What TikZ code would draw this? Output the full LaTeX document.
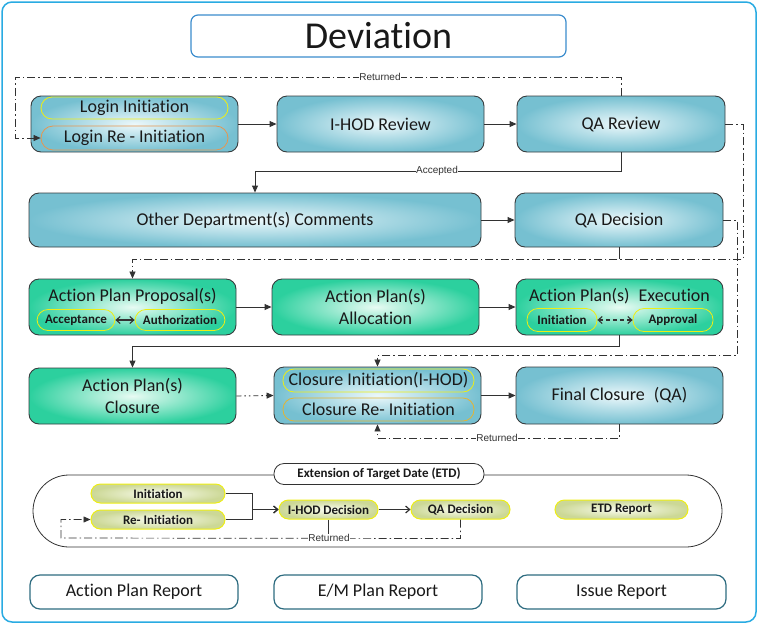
\documentclass[tikz,border=0pt]{standalone}
\usepackage{fontspec}
\setmainfont{Carlito}[RawFeature={-liga;-clig;-calt;-dlig}]
\newfontfamily\lblfont{Liberation Sans}
\usetikzlibrary{arrows.meta}

\definecolor{framecol}{RGB}{41,171,226}
\definecolor{devcol}{RGB}{58,140,205}
\definecolor{boxline}{RGB}{55,60,62}
\definecolor{bluein}{RGB}{236,248,251}
\definecolor{blueout}{RGB}{118,192,209}
\definecolor{greenin}{RGB}{232,251,243}
\definecolor{greenout}{RGB}{44,208,158}
\definecolor{pillyel}{RGB}{238,238,20}
\definecolor{pillorange}{RGB}{230,150,80}
\definecolor{pillgold}{RGB}{228,180,50}
\definecolor{etdin}{RGB}{250,252,240}
\definecolor{etdout}{RGB}{204,216,150}
\definecolor{reportcol}{RGB}{46,108,128}
\definecolor{linecol}{RGB}{50,50,50}
\definecolor{txt}{RGB}{25,25,25}

\begin{document}
\begin{tikzpicture}
[x=1pt,y=-1pt,>={Triangle[length=7pt,width=6pt]},
 box/.style={draw=boxline,line width=0.9pt,rounded corners=10pt,minimum width=207pt,minimum height=56pt,inner sep=0pt,font=\fontsize{18}{22}\selectfont,align=center,text=txt},
 bluebox/.style={box,inner color=bluein,outer color=blueout},
 greenbox/.style={box,inner color=greenin,outer color=greenout},
 pill/.style={draw=pillyel,line width=0.8pt,rounded corners=11pt,minimum width=187pt,minimum height=22pt,inner sep=0pt,font=\fontsize{18}{22}\selectfont,text=txt},
 smallpill/.style={pill,minimum width=0pt,font=\bfseries\fontsize{13}{15}\selectfont},
 etdpill/.style={draw=pillyel,line width=1pt,rounded corners=9.5pt,minimum height=19pt,inner sep=0pt,inner color=etdin,outer color=etdout,font=\bfseries\fontsize{13}{15}\selectfont,text=txt},
 report/.style={draw=reportcol,line width=1.2pt,rounded corners=10pt,minimum width=208pt,minimum height=34pt,inner sep=0pt,fill=white,font=\fontsize{18}{22}\selectfont,text=txt},
 line/.style={draw=linecol,line width=0.9pt},
 dashdot/.style={draw=linecol,line width=0.7pt,dash pattern=on 8pt off 3pt on 1.5pt off 3pt},
 lbl/.style={fill=white,inner sep=0.6pt,font=\lblfont\fontsize{10}{11}\selectfont,text=linecol},
 chev/.style={-{Straight Barb[length=4pt,width=7pt]}},
]

\useasboundingbox (0,0) rectangle (758,625);

%Frame and title
\draw[framecol,line width=1.5pt,rounded corners=10pt] (2,2) rectangle (756,622);
\node (dev) at (378.5,36)[draw=devcol,line width=1.2pt,rounded corners=7pt,minimum width=375pt,minimum height=42pt,inner sep=0pt,font=\fontsize{38}{40}\selectfont,text=txt] {Deviation};

%First row
\node (login) at (134.5,124)[bluebox] {};
\node (logini) at (134.5,108)[pill] {Login Initiation};
\node (loginre) at (134.5,138)[pill,draw=pillorange,minimum height=24pt,rounded corners=12pt] {Login Re - Initiation};
\node (ihod) at (380.5,124)[bluebox] {I-HOD Review};
\node (qarev) at (621,124)[bluebox,minimum width=208pt] {QA Review};

%Second row
\node (other) at (255,220)[bluebox,minimum width=452pt,minimum height=54pt] {Other Department(s) Comments};
\node (qadec) at (619,220)[bluebox,minimum width=208pt,minimum height=54pt] {QA Decision};

%Third row
\node (app) at (132.5,307)[greenbox] {};
\node (apptitle) at (132.5,296)[font=\fontsize{18}{22}\selectfont,text=txt] {Action Plan Proposal(s)};
\node (acc) at (76,320)[smallpill,minimum width=78pt,minimum height=21pt] {Acceptance};
\node (auth) at (180,320)[smallpill,minimum width=90pt,minimum height=21pt] {Authorization};
\node (alloc) at (375.5,307)[greenbox] {Action Plan(s)\\Allocation};
\node (exec) at (619.5,307)[greenbox] {};
\node (exectitle) at (619.5,296)[font=\fontsize{18}{22}\selectfont,text=txt] {Action Plan(s)\enspace Execution};
\node (exini) at (562,320)[smallpill,minimum width=70pt,minimum height=23pt] {Initiation};
\node (exapp) at (673,320)[smallpill,minimum width=80pt,minimum height=23pt] {Approval};

%Fourth row
\node (apclose) at (132.5,396)[greenbox] {Action Plan(s)\\Closure};
\node (closure) at (377.5,395.5)[bluebox,minimum height=57pt] {};
\node (clini) at (378.5,380.5)[pill,minimum width=191pt,minimum height=23pt] {Closure Initiation(I-HOD)};
\node (clre) at (378.5,409.5)[pill,draw=pillgold,minimum width=191pt,minimum height=23pt] {Closure Re- Initiation};
\node (final) at (619.5,395.5)[bluebox,minimum height=57pt] {Final Closure\enspace(QA)};

%Joining the boxes
\draw[line,->] (login.east) -- (ihod.west);
\draw[line,->] (ihod.east) -- (qarev.west);
\coordinate (rettop) at (15,77);
\draw[dashdot,->] (qarev.north) |- (rettop) |- (loginre.west);
\node (ret1) at (380,77)[lbl] {Returned};
\draw[line,->] (qarev.south) -- ++(0,19) -| (other.north);
\node (accd) at (437,171)[lbl] {Accepted};
\draw[line,->] (other.east) -- (qadec.west);
\draw[dashdot,->] (qarev.east) -- ++(18,0) -- ++(0,135) -| (app.north);
\draw[line] (qadec.south) -- ++(0,12);
\draw[dashdot,->] (qadec.east) -- ++(14,0) -- ++(0,135) -| (closure.north);
\draw[line,{Straight Barb[length=4pt,width=7pt]}-{Straight Barb[length=4pt,width=7pt]},line width=1.1pt] (acc) -- (auth);
\draw[line,{Straight Barb[length=4pt,width=7pt]}-{Straight Barb[length=4pt,width=7pt]},line width=1.1pt,dash pattern=on 4pt off 3pt] (exini) -- (exapp);
\draw[line,->] (app.east) -- (alloc.west);
\draw[line,->] (alloc.east) -- (exec.west);
\draw[line,->] (exec.south) -- ++(0,11) -| (apclose.north);
\draw[line,->,dash pattern=on 5pt off 3pt on 1.5pt off 3pt on 1.5pt off 3pt] (apclose.east) -- (closure.west);
\draw[line,->] (closure.east) -- (final.west);
\draw[dashdot,->] (final.south) -- ++(0,14) -| (closure.south);
\node (ret2) at (497,438)[lbl] {Returned};

%Extension of target date
\draw[line,line width=0.8pt,rounded corners=36pt] (33,475) rectangle (722,547);
\node (etdlbl) at (379,474)[draw=linecol,line width=0.8pt,rounded corners=10pt,fill=white,minimum width=210pt,minimum height=21pt,inner sep=0pt,font=\bfseries\fontsize{13}{15}\selectfont,text=txt] {Extension of Target Date (ETD)};
\node (eini) at (158,493.5)[etdpill,minimum width=134pt] {Initiation};
\node (ereini) at (158,519.5)[etdpill,minimum width=134pt] {Re- Initiation};
\node (ehod) at (328.5,509.5)[etdpill,minimum width=99pt] {I-HOD Decision};
\node (eqa) at (460.5,509.5)[etdpill,minimum width=99pt] {QA Decision};
\node (erep) at (621.5,509.5)[etdpill,minimum width=133pt] {ETD Report};
\draw[line,line width=1.2pt,chev] (eini.east) -- ++(27,0) |- (ehod.west);
\draw[line,line width=1.2pt,chev] (ereini.east) -- ++(27,0) |- (ehod.west);
\draw[line,line width=1.2pt,chev] (ehod.east) -- (eqa.west);
\coordinate (etdret) at (61,538);
\draw[dashdot,->] (eqa.south) -- ++(0,19) -- (etdret) |- (ereini.west);
\draw[line,line width=0.7pt] (ehod.south) -- ++(0,19);
\node (ret3) at (329,538)[lbl] {Returned};

%Reports
\node (apr) at (134,592)[report] {Action Plan Report};
\node (emr) at (378,592)[report] {E/M Plan Report};
\node (isr) at (621.5,592)[report,minimum width=209pt] {Issue Report};

\end{tikzpicture}
\end{document}
